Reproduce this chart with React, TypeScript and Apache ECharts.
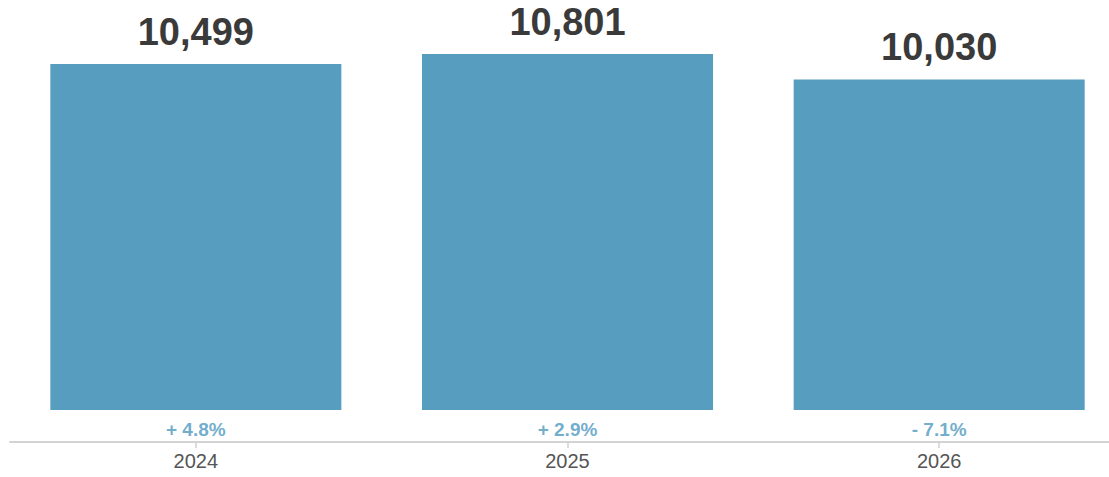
import React, { useEffect, useRef } from "react";
import * as echarts from "echarts";

const years = ["2024", "2025", "2026"];
const values = [10499, 10801, 10030];
const pctChanges = ["+ 4.8%", "+ 2.9%", "- 7.1%"];

const BAR_COLOR = "#569dc0";

export default function App() {
  const ref = useRef<HTMLDivElement>(null);
  useEffect(() => {
    document.body.style.margin = "0";
    document.body.style.overflow = "hidden";
    const chart = echarts.init(ref.current!, null, { renderer: "svg" });
    chart.setOption({
      animation: false,
      grid: { left: 10, right: 0, top: 0, bottom: 67, containLabel: false },
      xAxis: {
        type: "category",
        data: years,
        offset: 32,
        axisLine: { onZero: false, lineStyle: { color: "#d3d3d3", width: 2 } },
        axisTick: { show: true, alignWithLabel: true, length: 6, lineStyle: { color: "#d0d0d0", width: 1.5 } },
        axisLabel: {
          color: "#555555",
          fontSize: 20,
          fontFamily: "Liberation Sans, Arial, sans-serif",
          margin: 9,
        },
      },
      yAxis: {
        type: "value",
        min: 0,
        max: 12440,
        show: false,
        splitLine: { show: false },
      },
      series: [
        {
          type: "bar",
          data: values,
          barWidth: "78.3%",
          itemStyle: { color: BAR_COLOR },
          label: {
            show: true,
            position: "top",
            distance: 13,
            color: "#3a3a3a",
            fontSize: 38,
            fontWeight: "bold",
            fontFamily: "Liberation Sans, Arial, sans-serif",
            formatter: (p: any) => p.value.toLocaleString("en-US"),
          },
        },
        {
          type: "scatter",
          data: pctChanges.map(() => 0),
          symbolSize: 0,
          silent: true,
          label: {
            show: true,
            position: "bottom",
            distance: 10,
            color: "#4d98c0",
            fontSize: 19,
            fontWeight: "bold",
            fontFamily: "Liberation Sans, Arial, sans-serif",
            formatter: (p: any) => pctChanges[p.dataIndex],
          },
        },
      ],
    });
    return () => chart.dispose();
  }, []);
  return <div ref={ref} style={{ width: 1125, height: 477 }} />;
}
